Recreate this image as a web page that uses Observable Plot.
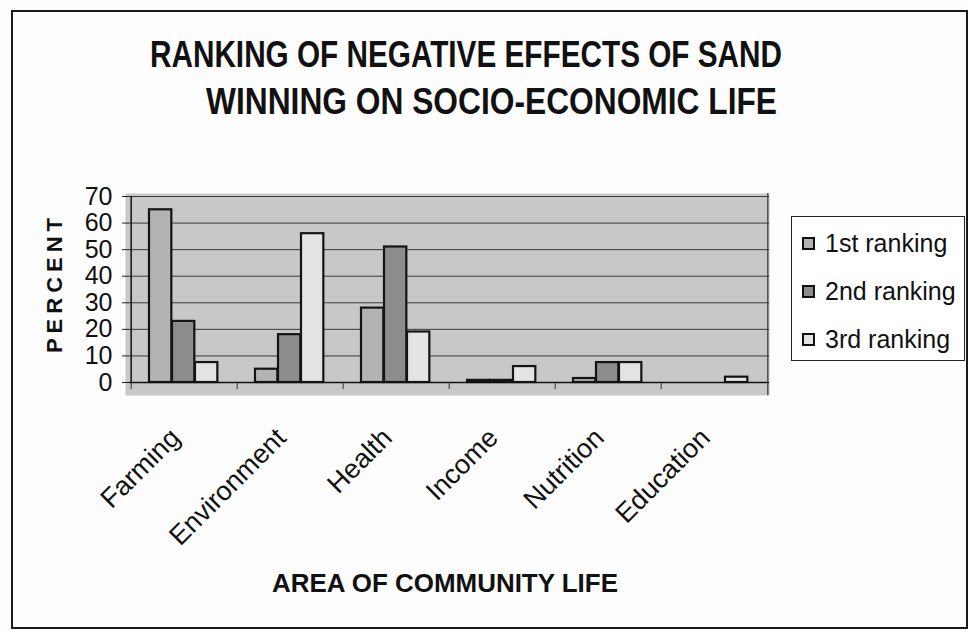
<!DOCTYPE html>
<html>
<head>
<meta charset="utf-8">
<script src="https://cdn.jsdelivr.net/npm/d3@7"></script>
<script src="https://cdn.jsdelivr.net/npm/@observablehq/plot@0.6"></script>
<style>
  body { margin: 0; background: #fff; font-family: "Liberation Sans", Arial, sans-serif; }
  #wrap { position: relative; width: 970px; height: 633px; overflow: hidden; background: #fdfdfd; }
  #chart { position: absolute; left: 0; top: 0; }
  .border { position: absolute; left: 11px; top: 10px; width: 953px; height: 615px; border: 2px solid #1a1a1a; }
  .t { position: absolute; font-weight: bold; color: #111; white-space: nowrap; transform-origin: left top; line-height: 1; }
  .title { font-size: 36px; }
  .xtitle { font-size: 26px; }
  .ytitle { position: absolute; font-weight: bold; font-size: 22px; letter-spacing: 5px; color: #111; white-space: nowrap;
            left: 55px; top: 283px; transform: translate(-50%, -50%) rotate(-90deg); line-height: 1; }
  .legend { position: absolute; left: 791px; top: 216px; width: 172px; height: 143px; border: 1.5px solid #222; background: #fff; }
  .sw { position: absolute; width: 13px; height: 13px; box-sizing: border-box; border: 2px solid #111; }
  .lt { position: absolute; font-size: 25px; color: #111; line-height: 1; white-space: nowrap; }
</style>
</head>
<body>
<div id="wrap">
  <div class="border"></div>
  <div id="chart"></div>
  <div class="t title" id="t1" style="left:150px; top:37px;">RANKING OF NEGATIVE EFFECTS OF SAND</div>
  <div class="t title" id="t2" style="left:206px; top:84px;">WINNING ON SOCIO-ECONOMIC LIFE</div>
  <div class="ytitle">PERCENT</div>
  <div class="t xtitle" id="xt" style="left:272px; top:570px;">AREA OF COMMUNITY LIFE</div>
  <div class="legend"></div>
  <div id="legendItems"></div>
</div>
<script>
// ---- data ----
const categories = ["Farming", "Environment", "Health", "Income", "Nutrition", "Education"];
const rankings = ["1st ranking", "2nd ranking", "3rd ranking"];
const first  = [65, 5, 28, 0.8, 1.5, 0];
const second = [23, 18, 51, 0.8, 7.5, 0];
const third  = [7.5, 56, 19, 6, 7.5, 2];
const yTicks = [0, 10, 20, 30, 40, 50, 60, 70];

const series = [first, second, third];
const fills = ["#b3b3b3", "#8c8c8c", "#e4e4e4"];
const data = categories.flatMap((c, j) => series.map((s, i) => ({area: c, rank: rankings[i], value: s[j], i})));

const mL = 129, mR = 201, W = 970;
const bw = (W - mL - mR) / categories.length;
const groupOffset = 18, barW = 23;

const chart = Plot.plot({
  width: W, height: 633,
  marginLeft: mL, marginRight: mR, marginTop: 196, marginBottom: 251,
  style: {background: "transparent", fontFamily: "'Liberation Sans', Arial, sans-serif", color: "#111", overflow: "visible"},
  x: {type: "band", domain: categories, padding: 0, label: null, axis: null},
  y: {domain: [0, 70], label: null, axis: null},
  marks: [
    Plot.frame({fill: "#c8c8c8", insetLeft: -4, insetTop: -3, insetBottom: -13}),
    Plot.gridY(yTicks.filter(t => t > 0), {stroke: "#3a3a3a", strokeOpacity: 1, strokeWidth: 1}),
    ...rankings.map((r, i) => Plot.barY(data.filter(d => d.i === i), {
      x: "area", y: "value", fill: fills[i], stroke: "#141414", strokeWidth: 2.2,
      insetLeft: groupOffset + barW * i, insetRight: bw - groupOffset - barW * (i + 1)
    })),
    Plot.ruleY([0], {stroke: "#111", strokeWidth: 1.5}),
    Plot.ruleX([categories[0]], {y1: 0, y2: 70, dx: -bw / 2, stroke: "#111", strokeWidth: 1.5}),
    Plot.ruleX([categories[categories.length - 1]], {dx: bw / 2, insetTop: -3, insetBottom: -13, stroke: "#333", strokeWidth: 1.2}),
    Plot.axisY(yTicks, {tickSize: 7, tickPadding: 10, fontSize: 25, label: null, stroke: "#222"}),
    Plot.axisX(categories, {tickSize: 7, tickFormat: () => "", dx: -bw / 2, label: null, stroke: "#333"}),
    Plot.text(categories, {x: d => d, text: d => d, frameAnchor: "bottom", rotate: -45, textAnchor: "end",
      lineAnchor: "bottom", dx: -3, dy: 57, fontSize: 27, fill: "#111"})
  ]
});
document.getElementById("chart").appendChild(chart);

// legend
const li = document.getElementById("legendItems");
const legendY = [243, 291, 339];
rankings.forEach((r, i) => {
  const sw = document.createElement("div");
  sw.className = "sw";
  sw.style.left = "802px"; sw.style.top = (legendY[i] - 6.5) + "px"; sw.style.background = fills[i];
  li.appendChild(sw);
  const t = document.createElement("div");
  t.className = "lt";
  t.style.left = "825px"; t.style.top = (legendY[i] - 12.5) + "px";
  t.textContent = r;
  li.appendChild(t);
});

// fit titles to the reference widths
function fit(id, target) {
  const el = document.getElementById(id);
  const w = el.getBoundingClientRect().width;
  el.style.transform = `scaleX(${target / w})`;
}
fit("t1", 632);
fit("t2", 571);
fit("xt", 346);
</script>
</body>
</html>
